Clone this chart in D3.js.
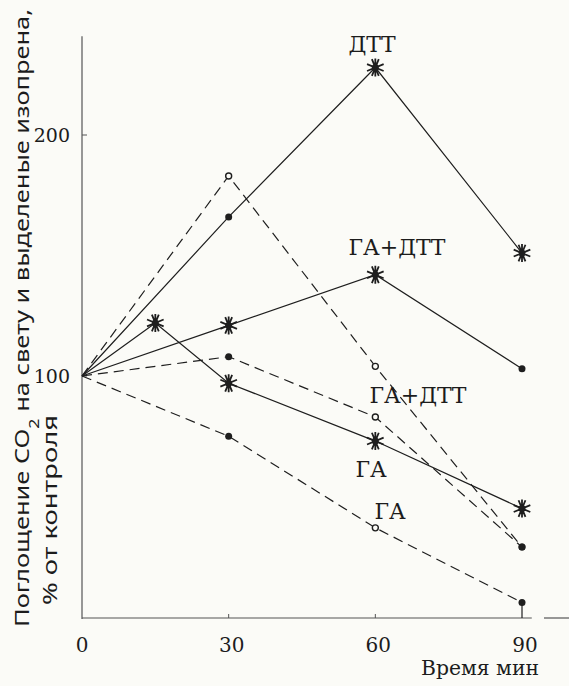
<!DOCTYPE html>
<html>
<head>
<meta charset="utf-8">
<script src="https://cdn.jsdelivr.net/npm/d3@7"></script>
<style>
  body { margin: 0; background: #fbfbf7; }
  text { fill: #1c1c1c; }
</style>
</head>
<body>
<script>
// Data
const minutes = [0, 30, 60, 90];
const dttSolid = [100, 166, 228, 151];          // ДТТ, solid
const dttDashed = [100, 183, 104, 29];          // dashed, open circles
const gaDttSolid = [100, 121, 142, 103];        // ГА+ДТТ, solid
const gaDttDashed = [100, 108, 83, 29];         // ГА+ДТТ, dashed
const gaSolidX = [0, 15, 30, 60, 90];
const gaSolid = [100, 122, 97, 73, 45];         // ГА, solid
const gaDashed = [100, 75, 37, 6];              // ГА, dashed
const xTicks = [0, 30, 60, 90];
const yTicks = [100, 200];

// Define
const svgWidth = 569, svgHeight = 686;
const svg = d3.select("body").append("svg")
    .attr("width", svgWidth)
    .attr("height", svgHeight);

const x = d3.scaleLinear().domain([0, 90]).range([82, 522]);
const y = d3.scaleLinear().domain([0, 100]).range([617, 376]);

const ink = "#1e1e1e";

// Axes (drawn by hand-ish, like the scan)
svg.append("line")
    .attr("x1", x(0)).attr("x2", x(0))
    .attr("y1", y(241)).attr("y2", y(0) + 2)
    .attr("stroke", "#555").attr("stroke-width", 1.2);
svg.append("line")
    .attr("x1", x(0)).attr("x2", x(92))
    .attr("y1", y(0) + 1).attr("y2", y(0) + 1)
    .attr("stroke", "#555").attr("stroke-width", 1.2);
svg.append("line")
    .attr("x1", x(94.5)).attr("x2", svgWidth)
    .attr("y1", y(0) + 1).attr("y2", y(0) + 1)
    .attr("stroke", "#555").attr("stroke-width", 1.2);

// y ticks + labels
yTicks.forEach(function(t) {
    svg.append("line")
        .attr("x1", x(0)).attr("x2", x(0) + 5)
        .attr("y1", y(t)).attr("y2", y(t))
        .attr("stroke", "#555");
    svg.append("text")
        .attr("x", 70).attr("y", y(t))
        .attr("dy", "0.35em")
        .attr("text-anchor", "end")
        .style("font-family", "DejaVu Serif, serif")
        .style("font-size", "19px")
        .text(t);
});

// x ticks + labels
xTicks.forEach(function(t) {
    if (t > 0 && t < 90) {
        svg.append("line")
            .attr("x1", x(t)).attr("x2", x(t))
            .attr("y1", y(0) + 1).attr("y2", y(0) - 3)
            .attr("stroke", "#555");
    }
    svg.append("text")
        .attr("x", x(t) + (t === 0 ? 0 : 3)).attr("y", 645)
        .attr("dy", "0.35em")
        .attr("text-anchor", "middle")
        .style("font-family", "DejaVu Serif, serif")
        .style("font-size", "20px")
        .text(t);
});

svg.append("text")
    .attr("x", 480).attr("y", 668)
    .attr("dy", "0.35em")
    .attr("text-anchor", "middle")
    .style("font-family", "DejaVu Serif, serif")
    .style("font-size", "20px")
    .attr("textLength", 118)
    .attr("lengthAdjust", "spacingAndGlyphs")
    .text("Время мин");

// y axis title (two rotated lines)
const t1 = svg.append("text")
    .attr("transform", "translate(29,318) rotate(-90)")
    .attr("text-anchor", "middle")
    .style("font-family", "Noto Sans, sans-serif")
    .style("font-size", "20px")
    .attr("textLength", 618)
    .attr("lengthAdjust", "spacingAndGlyphs");
t1.append("tspan").text("Поглощение CO");
t1.append("tspan").attr("baseline-shift", "sub").style("font-size", "14px").text("2");
t1.append("tspan").text(" на свету и выделеные изопрена,");

svg.append("text")
    .attr("transform", "translate(57,510) rotate(-90)")
    .attr("text-anchor", "middle")
    .style("font-family", "Noto Sans, sans-serif")
    .style("font-size", "20px")
    .attr("textLength", 190)
    .attr("lengthAdjust", "spacingAndGlyphs")
    .text("% от контроля");

// Lines
const line = d3.line()
    .x(function(d) { return x(d[0]); })
    .y(function(d) { return y(d[1]); });

function zipXY(xs, ys) { return xs.map(function(v, i) { return [v, ys[i]]; }); }

const series = [
    { pts: zipXY(minutes, dttSolid), dash: null, marks: ["none", "dot", "star", "star"] },
    { pts: zipXY(minutes, dttDashed), dash: "10,6", marks: ["none", "open", "open", "dot"] },
    { pts: zipXY(minutes, gaDttSolid), dash: null, marks: ["none", "star", "star", "dot"] },
    { pts: zipXY(minutes, gaDttDashed), dash: "10,6", marks: ["none", "dot", "open", "dot"] },
    { pts: zipXY(gaSolidX, gaSolid), dash: null, marks: ["none", "star", "star", "star", "star"] },
    { pts: zipXY(minutes, gaDashed), dash: "10,6", marks: ["none", "dot", "open", "dot"] }
];

series.forEach(function(s) {
    svg.append("path")
        .datum(s.pts)
        .attr("d", line)
        .attr("fill", "none")
        .attr("stroke", ink)
        .attr("stroke-width", 1.2)
        .attr("stroke-dasharray", s.dash);
});

// star marker path (8 spokes)
function starPath(r) {
    let p = "";
    for (let k = 0; k < 4; k++) {
        const a = k * Math.PI / 4 + Math.PI / 8;
        const dx = r * Math.cos(a), dy = r * Math.sin(a);
        p += "M" + (-dx) + "," + (-dy) + "L" + dx + "," + dy;
    }
    p += "M0," + (-r) + "L0," + r;
    return p;
}

series.forEach(function(s) {
    s.pts.forEach(function(d, i) {
        const m = s.marks[i];
        const g = svg.append("g").attr("transform", "translate(" + x(d[0]) + "," + y(d[1]) + ")");
        if (m === "star") {
            g.append("path").attr("d", starPath(9))
                .attr("stroke", ink).attr("stroke-width", 1.8);
            g.append("circle").attr("r", 3.5).attr("fill", ink);
        } else if (m === "dot") {
            g.append("circle").attr("r", 3.5).attr("fill", ink);
        } else if (m === "open") {
            g.append("circle").attr("r", 3).attr("fill", "#fbfbf7")
                .attr("stroke", ink).attr("stroke-width", 1.4);
        }
    });
});

// small stem from the last ГА dashed point to the axis
svg.append("line")
    .attr("x1", x(90)).attr("x2", x(90))
    .attr("y1", y(gaDashed[3])).attr("y2", y(0) + 1)
    .attr("stroke", ink).attr("stroke-width", 1.2);

// Labels on the curves
const labels = [
    { text: "ДТТ", x: 372, y: 44 },
    { text: "ГА+ДТТ", x: 397, y: 247 },
    { text: "ГА+ДТТ", x: 418, y: 395 },
    { text: "ГА", x: 371, y: 469 },
    { text: "ГА", x: 390, y: 511 }
];
svg.selectAll(".lbl")
    .data(labels)
    .enter().append("text")
    .attr("class", "lbl")
    .attr("x", function(d) { return d.x; })
    .attr("y", function(d) { return d.y; })
    .attr("dy", "0.35em")
    .attr("text-anchor", "middle")
    .style("font-family", "DejaVu Serif, serif")
    .style("font-size", "22px")
    .text(function(d) { return d.text; });
</script>
</body>
</html>
